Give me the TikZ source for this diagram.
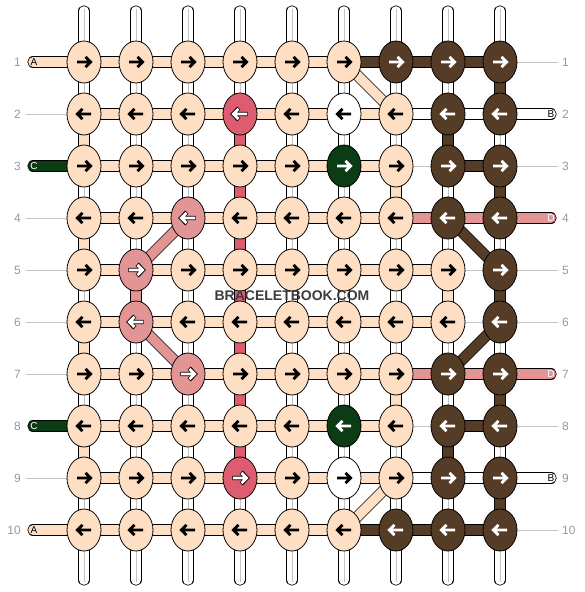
\documentclass[tikz,border=0pt]{standalone}
\usepackage{fontspec}
\setmainfont{Liberation Sans}
\usetikzlibrary{shapes.geometric,backgrounds}
\definecolor{pe}{HTML}{FFDFC3}
\definecolor{br}{HTML}{553C27}
\definecolor{gr}{HTML}{0B3C14}
\definecolor{pk}{HTML}{E39495}
\definecolor{rd}{HTML}{DE5C70}
\definecolor{wh}{HTML}{FFFFFF}
\definecolor{lab}{HTML}{999999}
\definecolor{gl}{HTML}{C4C4C4}
\definecolor{wmc}{HTML}{3C3C3C}
\tikzset{
 knot/.style={ellipse, draw=black, line width=0.8pt, minimum width=34pt, minimum height=42pt, inner sep=0pt},
 hb/.style={draw=black, line width=0.8pt, double=#1, double distance=9.6pt},
 bar-pe/.style={hb=pe}, bar-br/.style={hb=br}, bar-wh/.style={hb=wh},
 bar-pk/.style={hb=pk}, bar-gr/.style={hb=gr}, bar-rd/.style={hb=rd},
 bar-no/.style={draw=gl, line width=0.9pt},
 cl-wh/.style={draw=gl, line width=0.8pt},
 cl-pe/.style={draw=none}, cl-br/.style={draw=none}, cl-pk/.style={draw=none},
 cl-rd/.style={draw=none}, cl-gr/.style={draw=none},
 arrfill/.store in=\arrfill, arrline/.store in=\arrline,
 arrfill=black, arrline=none,
 arr-pe/.style={arrfill=black, arrline=none},
 arr-wh/.style={arrfill=black, arrline=none},
 arr-br/.style={arrfill=white, arrline=none},
 arr-gr/.style={arrfill=white, arrline=none},
 arr-pk/.style={arrfill=white, arrline=black},
 arr-rd/.style={arrfill=white, arrline=black},
 pics/ra/.style={code={
   \draw[draw=\arrline, line width=4.4pt, line join=miter] (-7.6,0) -- (6.4,0) (1.2,-5.8) -- (6.8,0) -- (1.2,5.8);
   \draw[draw=\arrfill, line width=2.8pt, line join=miter] (-7,0) -- (5.8,0) (1.5,-5.2) -- (6.6,0) -- (1.5,5.2);
 }},
 pics/la/.style={code={
   \draw[draw=\arrline, line width=4.4pt, line join=miter] (7.6,0) -- (-6.4,0) (-1.2,-5.8) -- (-6.8,0) -- (-1.2,5.8);
   \draw[draw=\arrfill, line width=2.8pt, line join=miter] (7,0) -- (-5.8,0) (-1.5,-5.2) -- (-6.6,0) -- (-1.5,5.2);
 }},
 rl/.style={text=lab, font=\fontsize{12}{14}\selectfont, inner sep=0pt},
 stl/.style={font=\fontsize{10}{12}\selectfont, inner sep=0pt},
}
\newcommand\krow[4]{\foreach \c/\k in {#4}{
  \node[knot, fill=\k] (k#1-\c) at ({84+52*(\c-1)},#2) {};
  \pic[arr-\k] at (k#1-\c) {#3};}}
\newcommand\hrow[2]{\foreach \c/\k [evaluate=\c as \d using int(\c+1)] in {#2}{
  \draw[bar-\k] (k#1-\c.center) -- (k#1-\d.center);}}
\newcommand\vgap[3]{\foreach \c/\k in {#3}{
  \draw[bar-\k] (k#1-\c.center) -- (k#2-\c.center);
  \draw[cl-\k] (k#1-\c.center) -- (k#2-\c.center);}}
\begin{document}
\begin{tikzpicture}[x=1pt,y=-1pt]
\useasboundingbox (0,0) rectangle (584,592);
% knots
\krow{1}{62}{ra}{1/pe,2/pe,3/pe,4/pe,5/pe,6/pe,7/br,8/br,9/br}
\krow{2}{114}{la}{1/pe,2/pe,3/pe,4/rd,5/pe,6/wh,7/pe,8/br,9/br}
\krow{3}{166}{ra}{1/pe,2/pe,3/pe,4/pe,5/pe,6/gr,7/pe,8/br,9/br}
\krow{4}{218}{la}{1/pe,2/pe,3/pk,4/pe,5/pe,6/pe,7/pe,8/br,9/br}
\krow{5}{270}{ra}{1/pe,2/pk,3/pe,4/pe,5/pe,6/pe,7/pe,8/pe,9/br}
\krow{6}{322}{la}{1/pe,2/pk,3/pe,4/pe,5/pe,6/pe,7/pe,8/pe,9/br}
\krow{7}{374}{ra}{1/pe,2/pe,3/pk,4/pe,5/pe,6/pe,7/pe,8/br,9/br}
\krow{8}{426}{la}{1/pe,2/pe,3/pe,4/pe,5/pe,6/gr,7/pe,8/br,9/br}
\krow{9}{478}{ra}{1/pe,2/pe,3/pe,4/rd,5/pe,6/wh,7/pe,8/br,9/br}
\krow{10}{530}{la}{1/pe,2/pe,3/pe,4/pe,5/pe,6/pe,7/br,8/br,9/br}
\begin{pgfonlayer}{background}
% horizontal bars
\hrow{1}{1/pe,2/pe,3/pe,4/pe,5/pe,6/br,7/br,8/br}
\hrow{2}{1/pe,2/pe,3/pe,4/pe,5/pe,6/pe,7/wh,8/wh}
\hrow{3}{1/pe,2/pe,3/pe,4/pe,5/pe,6/pe,7/no,8/br}
\hrow{4}{1/pe,2/pe,3/pe,4/pe,5/pe,6/pe,7/pk,8/pk}
\hrow{5}{1/pe,2/pe,3/pe,4/pe,5/pe,6/pe,7/pe,8/no}
\hrow{6}{1/pe,2/pe,3/pe,4/pe,5/pe,6/pe,7/pe,8/no}
\hrow{7}{1/pe,2/pe,3/pe,4/pe,5/pe,6/pe,7/pk,8/pk}
\hrow{8}{1/pe,2/pe,3/pe,4/pe,5/pe,6/pe,7/no,8/br}
\hrow{9}{1/pe,2/pe,3/pe,4/pe,5/pe,6/pe,7/wh,8/wh}
\hrow{10}{1/pe,2/pe,3/pe,4/pe,5/pe,6/br,7/br,8/br}
% vertical gaps
\vgap{1}{2}{1/wh,2/wh,3/wh,4/wh,5/wh,6/wh,7/wh,8/wh,9/br}
\vgap{2}{3}{1/pe,2/wh,3/wh,4/rd,5/wh,6/wh,7/wh,8/br,9/wh}
\vgap{3}{4}{1/wh,2/wh,3/wh,4/rd,5/wh,6/wh,7/pe,8/wh,9/br}
\vgap{4}{5}{1/pe,2/wh,3/wh,4/rd,5/wh,6/wh,7/wh,8/wh,9/wh}
\vgap{5}{6}{1/wh,2/pk,3/wh,4/rd,5/wh,6/wh,7/wh,8/pe,9/br}
\vgap{6}{7}{1/pe,2/wh,3/wh,4/rd,5/wh,6/wh,7/wh,8/wh,9/wh}
\vgap{7}{8}{1/wh,2/wh,3/wh,4/rd,5/wh,6/wh,7/pe,8/wh,9/br}
\vgap{8}{9}{1/pe,2/wh,3/wh,4/rd,5/wh,6/wh,7/wh,8/br,9/wh}
\vgap{9}{10}{1/wh,2/wh,3/wh,4/wh,5/wh,6/wh,7/wh,8/wh,9/br}
% diagonals
\draw[bar-pe] (k1-6.center) -- (k2-7.center);
\draw[bar-pk] (k4-3.center) -- (k5-2.center);
\draw[bar-br] (k4-8.center) -- (k5-9.center);
\draw[bar-pk] (k6-2.center) -- (k7-3.center);
\draw[bar-br] (k6-9.center) -- (k7-8.center);
\draw[bar-pe] (k9-7.center) -- (k10-6.center);
% top and bottom string ends
\foreach \c in {1,...,9}{
  \coordinate (t\c) at ({84+52*(\c-1)},11);
  \coordinate (b\c) at ({84+52*(\c-1)},580);
  \draw[bar-wh, line cap=round] (t\c) -- (k1-\c.center);
  \draw[cl-wh] ([yshift=2pt]t\c) -- (k1-\c.center);
  \draw[bar-wh, line cap=round] (b\c) -- (k10-\c.center);
  \draw[cl-wh] ([yshift=-2pt]b\c) -- (k10-\c.center);
}
% side strings
\foreach \r/\y/\k in {1/62/pe,3/166/gr,8/426/gr,10/530/pe}{
  \coordinate (L\r) at (33,\y);
  \draw[bar-\k, line cap=round] (L\r) -- (k\r-1.center);}
\foreach \r/\y/\k in {2/114/wh,4/218/pk,7/374/pk,9/478/wh}{
  \coordinate (R\r) at (551,\y);
  \draw[bar-\k, line cap=round] (R\r) -- (k\r-9.center);}
\foreach \r/\y in {2/114,4/218,5/270,6/322,7/374,9/478}{
  \coordinate (GL\r) at (26,\y);
  \draw[bar-no] (GL\r) -- (k\r-1.center);}
\foreach \r/\y in {1/62,3/166,5/270,6/322,8/426,10/530}{
  \coordinate (GR\r) at (558,\y);
  \draw[bar-no] (k\r-9.center) -- (GR\r);}
\end{pgfonlayer}
% side labels
\node[stl, text=black] (sA1) at ([xshift=1pt]L1) {A};
\node[stl, text=white] (sC3) at ([xshift=1pt]L3) {C};
\node[stl, text=white] (sC8) at ([xshift=1pt]L8) {C};
\node[stl, text=black] (sA10) at ([xshift=1pt]L10) {A};
\node[stl, text=black] (sB2) at (R2) {B};
\node[stl, text=white] (sD4) at (R4) {D};
\node[stl, text=white] (sD7) at (R7) {D};
\node[stl, text=black] (sB9) at (R9) {B};
% row numbers
\foreach \r/\y in {1/62,2/114,3/166,4/218,5/270,6/322,7/374,8/426,9/478,10/530}{
  \node[rl, anchor=east] (nl\r) at (21,\y) {\r};
  \node[rl, anchor=west] (nr\r) at (562,\y) {\r};}
% watermark
\node[text=wmc, font=\fontsize{14}{16}\selectfont\bfseries, inner sep=0pt] (wm) at (292,296) {BRACELETBOOK.COM};
\end{tikzpicture}
\end{document}
